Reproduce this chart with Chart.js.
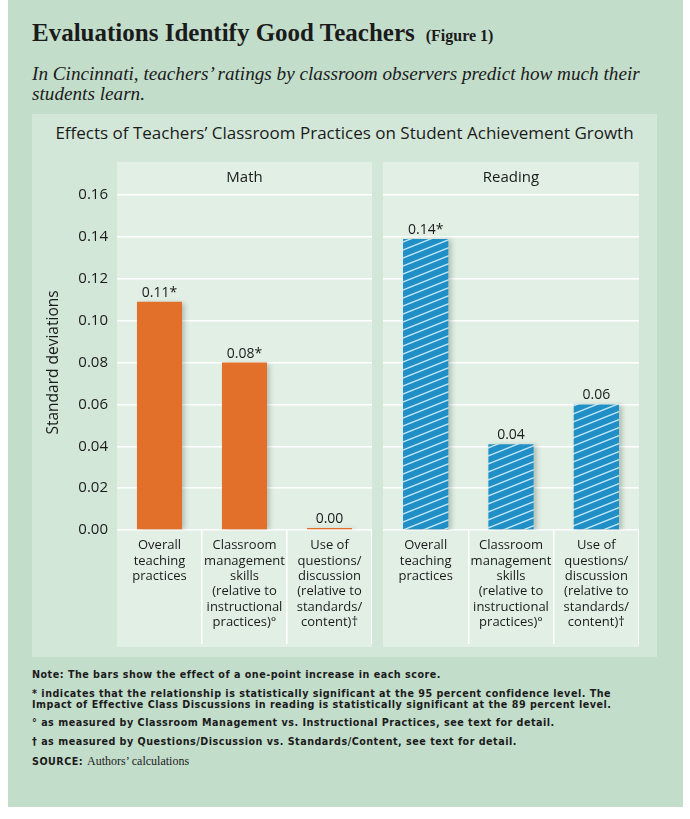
<!DOCTYPE html>
<html>
<head>
<meta charset="utf-8">
<script src="https://cdn.jsdelivr.net/npm/chart.js@4.4.1/dist/chart.umd.min.js"></script>
<style>
  body { margin: 0; width: 690px; height: 819px; background: #fff; position: relative; overflow: hidden; }
  .abs { position: absolute; }
  #outer { left: 8px; top: 0; width: 675px; height: 807px; background: #c3ddcb; }
  #title { left: 32px; top: 19px; font: bold 25px "Liberation Serif", serif; color: #1b1b1b; white-space: nowrap; }
  #title small { font-size: 16px; margin-left: 11px; }
  #subtitle { left: 32px; top: 64px; width: 630px; font: italic 19.2px/20px "Liberation Serif", serif; color: #1b1b1b; }
  #inner { left: 32px; top: 114px; width: 625px; height: 543px; background: #d3e7d9; }
  #chartTitle { left: 32px; top: 121px; width: 625px; text-align: center; font: 17px "Open Sans", sans-serif; color: #1b1b1b; }
  .panel { top: 162px; height: 485px; background: #e2efe5; }
  #notes { left: 32px; top: 669px; width: 600px; font: bold 9.6px/11px "DejaVu Sans", sans-serif; letter-spacing: 0.5px; color: #1b1b1b; }
  #notes p { margin: 0 0 7.5px 0; }
  #notes .src { font: 12px "Liberation Serif", serif; font-weight: normal; letter-spacing: 0; }
</style>
</head>
<body>
<div id="outer" class="abs"></div>
<div id="title" class="abs">Evaluations Identify Good Teachers<small>(Figure 1)</small></div>
<div id="subtitle" class="abs">In Cincinnati, teachers’ ratings by classroom observers predict how much their students learn.</div>
<div id="inner" class="abs"></div>
<div id="chartTitle" class="abs">Effects of Teachers’ Classroom Practices on Student Achievement Growth</div>
<div class="abs panel" style="left:117px;width:255px"></div>
<div class="abs panel" style="left:383px;width:256px"></div>
<div class="abs" style="left:32px;top:162px;width:340px;height:485px"><canvas id="mathChart"></canvas></div>
<div class="abs" style="left:383px;top:162px;width:256px;height:485px"><canvas id="readingChart"></canvas></div>
<div id="notes" class="abs">
  <p>Note: The bars show the effect of a one-point increase in each score.</p>
  <p>* indicates that the relationship is statistically significant at the 95 percent confidence level. The Impact of Effective Class Discussions in reading is statistically significant at the 89 percent level.</p>
  <p>° as measured by Classroom Management vs. Instructional Practices, see text for detail.</p>
  <p>† as measured by Questions/Discussion vs. Standards/Content, see text for detail.</p>
  <p>SOURCE: <span class="src">Authors’ calculations</span></p>
</div>

<script>
const categories = [
    ['Overall', 'teaching', 'practices'],
    ['Classroom', 'management', 'skills', '(relative to', 'instructional', 'practices)°'],
    ['Use of', 'questions/', 'discussion', '(relative to', 'standards/', 'content)†']
];
const mathValues = [0.109, 0.08, 0];
const readingValues = [0.139, 0.041, 0.06];
const mathLabels = ['0.11*', '0.08*', '0.00'];
const readingLabels = ['0.14*', '0.04', '0.06'];
const yTicks = [0, 0.02, 0.04, 0.06, 0.08, 0.10, 0.12, 0.14, 0.16];

const textColor = '#1b1b1b';
const orange = '#e2702a';
const blue = '#1f8fc6';

// Diagonal white stripes for the reading bars
const stripePattern = () => {
    const c = document.createElement('canvas');
    c.width = 20;
    c.height = 8;
    const g = c.getContext('2d');
    g.fillStyle = blue;
    g.fillRect(0, 0, 20, 8);
    g.strokeStyle = '#c2e6f7';
    g.lineWidth = 1.4;
    [-8, 0, 8].forEach((dy) => {
        g.beginPath();
        g.moveTo(0, 8 + dy);
        g.lineTo(20, dy);
        g.stroke();
    });
    return g.createPattern(c, 'repeat');
};

const barShadow = {
    id: 'barShadow',
    beforeDatasetsDraw(chart) {
        const ctx = chart.ctx;
        ctx.save();
        ctx.shadowColor = 'rgba(60, 70, 60, 0.3)';
        ctx.shadowBlur = 5;
        ctx.shadowOffsetX = 3;
        ctx.shadowOffsetY = 1;
    },
    afterDatasetsDraw(chart) {
        chart.ctx.restore();
    }
};

const valueLabels = {
    id: 'valueLabels',
    afterDatasetsDraw(chart, args, opts) {
        const ctx = chart.ctx;
        const meta = chart.getDatasetMeta(0);
        ctx.save();
        ctx.font = '14px "Open Sans"';
        ctx.fillStyle = textColor;
        ctx.textAlign = 'center';
        ctx.textBaseline = 'alphabetic';
        meta.data.forEach((bar, i) => ctx.fillText(opts.labels[i], bar.x, bar.y - 5));
        ctx.restore();
    }
};

const makeChart = (id, heading, values, labels, fill, withAxis) => new Chart(document.getElementById(id), {
    type: 'bar',
    data: {
        labels: categories,
        datasets: [{
            data: values,
            backgroundColor: fill,
            borderWidth: 0,
            barPercentage: 0.53,
            categoryPercentage: 1,
            minBarLength: 2
        }]
    },
    plugins: [barShadow, valueLabels],
    options: {
        responsive: true,
        maintainAspectRatio: false,
        animation: false,
        layout: { padding: { left: withAxis ? 8 : 0 } },
        plugins: {
            legend: { display: false },
            tooltip: { enabled: false },
            title: {
                display: true,
                text: heading,
                fullSize: false,
                color: textColor,
                font: { family: 'Open Sans', size: 15, weight: 'normal' },
                padding: { top: 7, bottom: 8 }
            },
            valueLabels: { labels: labels }
        },
        scales: {
            y: {
                min: 0,
                max: 0.16,
                afterBuildTicks: (s) => { s.ticks = yTicks.map((v) => ({ value: v })); },
                afterFit: (s) => { s.width = withAxis ? 77 : 0; },
                border: { display: false },
                grid: { color: '#ffffff', lineWidth: 1.5, drawTicks: false },
                ticks: {
                    display: withAxis,
                    padding: 9,
                    color: textColor,
                    font: { family: 'Open Sans', size: 15 },
                    callback: (v) => v.toFixed(2)
                },
                title: {
                    display: withAxis,
                    text: 'Standard deviations',
                    color: textColor,
                    font: { family: 'Open Sans', size: 15.5 }
                }
            },
            x: {
                afterFit: (s) => { s.height = 117; },
                border: { display: false },
                grid: {
                    offset: true,
                    drawOnChartArea: false,
                    tickLength: 114,
                    lineWidth: 1.5,
                    color: (c) => (c.index === 0 || c.index === categories.length) ? 'rgba(0,0,0,0)' : '#ffffff'
                },
                ticks: {
                    padding: -106,
                    autoSkip: false,
                    maxRotation: 0,
                    color: textColor,
                    font: { family: 'Open Sans', size: 13, lineHeight: 1.18 }
                }
            }
        }
    }
});

makeChart('mathChart', 'Math', mathValues, mathLabels, orange, true);
makeChart('readingChart', 'Reading', readingValues, readingLabels, stripePattern(), false);
</script>
</body>
</html>
